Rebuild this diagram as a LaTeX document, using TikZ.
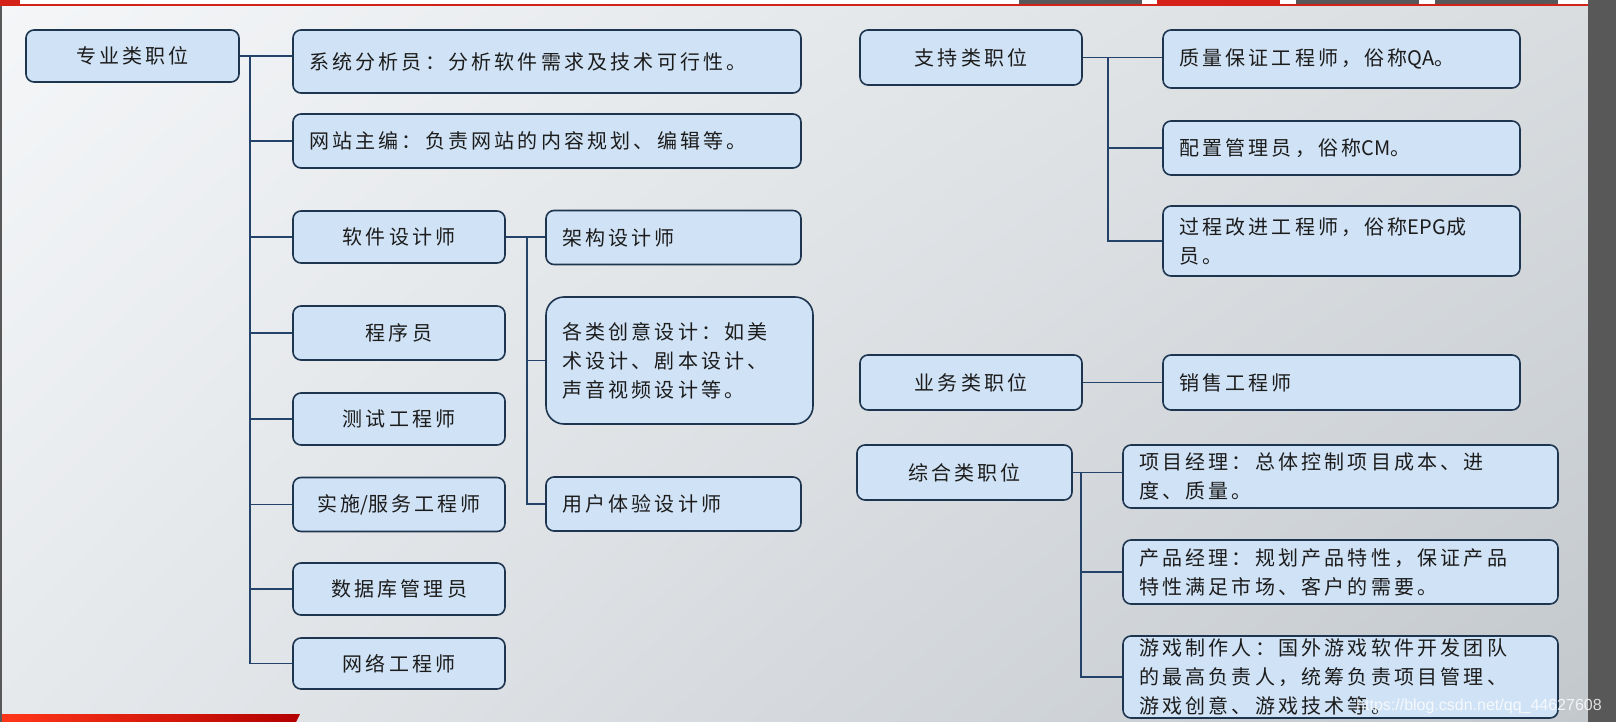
\documentclass[tikz,border=0pt]{standalone}
\usepackage{fontspec}
\usepackage{tikz}
\usetikzlibrary{positioning,calc,shadings}
\newfontfamily\cjk[LetterSpace=16]{Noto Sans CJK SC}
\newfontfamily\cjklat{Noto Sans CJK SC}
\newfontfamily\wmfont{Liberation Sans}
\newcommand{\lat}[1]{{\cjklat #1}}
\definecolor{boxfill}{HTML}{D0E2F5}
\definecolor{boxline}{HTML}{1E3550}
\definecolor{linkblue}{HTML}{24436A}
\definecolor{slidered}{HTML}{D42218}
\definecolor{panelgray}{HTML}{585858}
\definecolor{textgray}{HTML}{1C1C1C}
\definecolor{bgtl}{HTML}{F4F6F8}
\definecolor{bgtr}{HTML}{D9DDE0}
\definecolor{bgbl}{HTML}{E6E9EC}
\definecolor{bgbr}{HTML}{C3C8CD}

\begin{document}
\begin{tikzpicture}[x=1pt, y=-1pt,
    box/.style={rectangle, draw=boxline, fill=boxfill, line width=1.6pt, rounded corners=8pt,
        font=\cjk\fontsize{20}{29}\selectfont, text=textgray, inner ysep=0pt},
    cat/.style={box, inner xsep=0pt, minimum width=#1, minimum height=54pt},
    job/.style={box, text width=#1, align=left, inner xsep=16pt, minimum height=54pt},
    link/.style={draw=linkblue, line width=1.6pt}
]
    % slide background
    \useasboundingbox (0,0) rectangle (1616,722);
    \shade[upper left=bgtl, upper right=bgtr, lower left=bgbl, lower right=bgbr] (0,0) rectangle (1588,722);
    \fill[panelgray] (1588,0) rectangle (1616,722);
    \fill[panelgray] (0,0) rectangle (2,722);

    % top strip
    \fill[white] (0,0) rectangle (1588,4);
    \fill[slidered] (0,4) rectangle (1588,6);
    \fill[slidered] (0,0) rectangle (20,6);
    \foreach \x/\c in {1019/panelgray, 1157/slidered, 1296/panelgray, 1435/panelgray}
        \fill[\c] (\x,0) rectangle (\x+123,4);

    % bottom red bar
    \shade[left color=red!75!orange!90, right color=red!70!black] (2,714) -- (300,714) -- (296,722) -- (2,722) -- cycle;

    % professional positions
    \node[cat=213, minimum height=52pt] (zy) at (132.5,56) {专业类职位};
    \node[job=476, minimum height=63pt] (xt) at (547,61.5) {系统分析员：分析软件需求及技术可行性。};
    \node[job=476] (wz) at (547,141) {网站主编：负责网站的内容规划、编辑等。};
    \node[cat=212, minimum height=52pt] (rj) at (399,237) {软件设计师};
    \node[cat=212] (cx) at (399,333) {程序员};
    \node[cat=212, minimum height=52pt] (cs) at (399,419) {测试工程师};
    \node[cat=212] (ss) at (399,504.5) {实施\lat{/}服务工程师};
    \node[cat=212, minimum height=52pt] (sj) at (399,589) {数据库管理员};
    \node[cat=212, minimum height=51pt] (wl) at (399,663.5) {网络工程师};
    \node[job=223] (jg) at (673.5,237.5) {架构设计师};
    \node[job=235, minimum height=127pt, rounded corners=18pt] (cy) at (679.5,360.5)
        {各类创意设计：如美\\术设计、剧本设计、\\声音视频设计等。};
    \node[job=223] (yh) at (673.5,504) {用户体验设计师};

    % support positions
    \node[cat=222, minimum height=55pt] (zc) at (971,57.5) {支持类职位};
    \node[job=325, minimum height=58pt] (zl) at (1341.5,59) {质量保证工程师，俗称\lat{QA}。};
    \node[job=325] (pz) at (1341.5,148) {配置管理员，俗称\lat{CM}。};
    \node[job=325, minimum height=70pt] (gc) at (1341.5,241) {过程改进工程师，俗称\lat{EPG}成\\员。};

    % business positions
    \node[cat=222, minimum height=55pt] (yw) at (971,382.5) {业务类职位};
    \node[job=325, minimum height=55pt] (xs) at (1341.5,382.5) {销售工程师};

    % general positions
    \node[cat=215, minimum height=55pt] (zh) at (964.5,472.5) {综合类职位};
    \node[job=403, minimum height=63pt] (xm) at (1340.5,476.5) {项目经理：总体控制项目成本、进\\度、质量。};
    \node[job=403, minimum height=64pt] (cp) at (1340.5,572) {产品经理：规划产品特性，保证产品\\特性满足市场、客户的需要。};
    \node[job=403, minimum height=82pt] (yx) at (1340.5,677)
        {游戏制作人：国外游戏软件开发团队\\的最高负责人，统筹负责项目管理、\\游戏创意、游戏技术等。};

    % connectors
    \draw[link] (zy.east) -- (zy.east -| xt.west);
    \coordinate (zyt) at ([xshift=10pt]zy.east);
    \foreach \n in {wz,rj,cx,cs,ss,sj,wl}
        \draw[link] (zyt) |- (\n.west);
    \draw[link] (rj.east) -- (rj.east -| jg.west);
    \coordinate (rjt) at ([xshift=21pt]rj.east);
    \foreach \n in {cy,yh}
        \draw[link] (rjt) |- (\n.west);
    \draw[link] (zc.east) -- (zc.east -| zl.west);
    \coordinate (zct) at ([xshift=25pt]zc.east);
    \foreach \n in {pz,gc}
        \draw[link] (zct) |- (\n.west);
    \draw[link] (yw) -- (xs);
    \draw[link] (zh.east) -- (zh.east -| xm.west);
    \coordinate (zht) at ([xshift=8pt]zh.east);
    \foreach \n in {cp,yx}
        \draw[link] (zht) |- (\n.west);

    % watermark
    \node[anchor=base west, inner sep=0pt, font=\wmfont\fontsize{16}{18}\selectfont, text=white, text opacity=0.8]
        (wm) at (1356,710) {https://blog.csdn.net/qq\_44627608};
\end{tikzpicture}
\end{document}
